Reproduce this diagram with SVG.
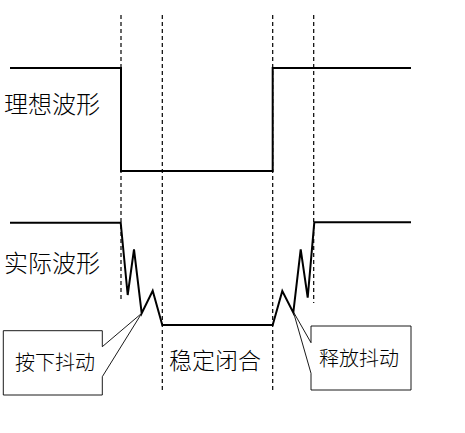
<svg xmlns="http://www.w3.org/2000/svg" width="465" height="433" viewBox="0 0 465 433">
<style>
.wave{fill:none;stroke:#000;stroke-width:2;stroke-linejoin:miter}
.dash{fill:none;stroke:#000;stroke-width:1.2;stroke-dasharray:4 3}
.callout{fill:#fff;stroke:#000;stroke-width:0.9}
.lbl{font-family:"Noto Sans CJK SC","Noto Sans CJK JP",sans-serif;font-weight:300;fill:#000}
</style>
<rect width="465" height="433" fill="#fff"/>
<g id="guides">
<line class="dash" x1="121" y1="15" x2="121" y2="302"/>
<line class="dash" x1="162.3" y1="15" x2="162.3" y2="390"/>
<line class="dash" x1="272.7" y1="15" x2="272.7" y2="390"/>
<line class="dash" x1="313.7" y1="15" x2="313.7" y2="303"/>
</g>
<g id="ideal-wave">
<polyline class="wave" points="10,68 121,68 121,171 272.7,171 272.7,68 411,68"/>
<text class="lbl" x="4" y="113" font-size="24">理想波形</text>
</g>
<g id="actual-wave">
<polyline class="wave" points="10,222.7 120.7,222.7 127.7,295 134,249.3 141.7,313.3 152.7,290.7 162.3,325 272.7,325 282.3,291 293.3,312.7 300.7,249.3 307.7,297.7 314.3,222.3 411,222.3"/>
<text class="lbl" x="4" y="272" font-size="24">实际波形</text>
</g>
<g id="connectors">
<path class="callout" d="M3.3,330.7 H102.3 V346.7 L141.7,313.3 L102.3,376.7 V395 H3.3 Z"/>
<path class="callout" d="M311,326 H411 V390 H311 V373.3 L293.3,311.7 L311,342.7 Z"/>
</g>
<g id="press-bounce">
<text class="lbl" x="15" y="370" font-size="20">按下抖动</text>
</g>
<g id="release-bounce">
<text class="lbl" x="319" y="366" font-size="20">释放抖动</text>
</g>
<g id="stable-closed">
<text class="lbl" x="169" y="369" font-size="23">稳定闭合</text>
</g>
</svg>
